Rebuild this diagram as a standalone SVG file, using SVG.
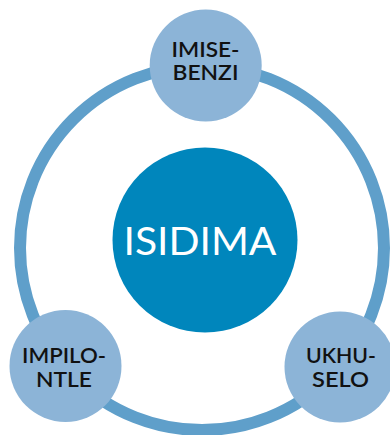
<svg xmlns="http://www.w3.org/2000/svg" width="390" height="435" viewBox="0 0 390 435">
<style>
.ring{fill:none;stroke:#5f9fca;stroke-width:12}
.small{fill:#8cb4d7}
.center{fill:#0086bc}
.lbl{font-family:"Lato","Liberation Sans",sans-serif;font-size:20.5px;font-weight:600;fill:#111;text-anchor:middle}
.main{font-family:"Lato","Liberation Sans",sans-serif;font-size:38px;font-weight:400;fill:#fff;text-anchor:middle}
</style>
<rect width="390" height="435" fill="#fff"/>
<g id="connectors">
<circle class="ring" cx="202" cy="248" r="182"/>
</g>
<g id="isidima">
<circle class="center" cx="205" cy="240" r="92.5"/>
<text class="main" x="200" y="255" textLength="153" lengthAdjust="spacingAndGlyphs">ISIDIMA</text>
</g>
<g id="imisebenzi">
<circle class="small" cx="205.7" cy="65.5" r="56"/>
<text class="lbl" x="205.5" y="57.3" textLength="68" lengthAdjust="spacingAndGlyphs">IMISE-</text>
<text class="lbl" x="205.5" y="80" textLength="66" lengthAdjust="spacingAndGlyphs">BENZI</text>
</g>
<g id="impilontle">
<circle class="small" cx="65.5" cy="366" r="56"/>
<text class="lbl" x="64" y="362.7" textLength="84" lengthAdjust="spacingAndGlyphs">IMPILO-</text>
<text class="lbl" x="64" y="386.7" textLength="56" lengthAdjust="spacingAndGlyphs">NTLE</text>
</g>
<g id="ukhuselo">
<circle class="small" cx="340" cy="367" r="55.5"/>
<text class="lbl" x="341" y="362.7" textLength="70" lengthAdjust="spacingAndGlyphs">UKHU-</text>
<text class="lbl" x="340.5" y="386.7" textLength="57" lengthAdjust="spacingAndGlyphs">SELO</text>
</g>
</svg>
